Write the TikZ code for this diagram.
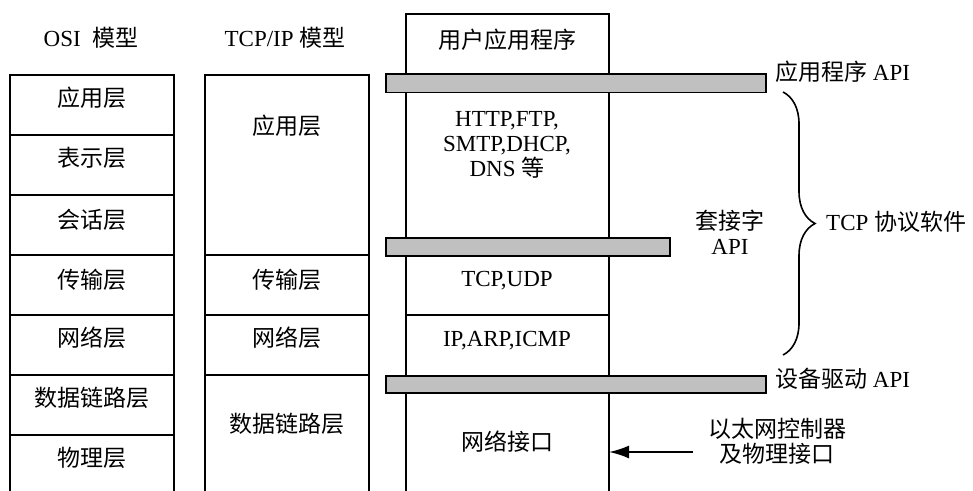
\documentclass[tikz,border=0pt]{standalone}
\usepackage{fontspec}
\setmainfont{Liberation Serif}
\newfontfamily\cjk{Noto Sans CJK SC}
\usetikzlibrary{arrows.meta,decorations.pathreplacing}
\definecolor{bargray}{RGB}{192,192,192}
\tikzset{
  frame/.style={draw, line width=1.9pt},
  apibar/.style={draw, fill=bargray, line width=1.9pt},
  lbl/.style={font=\fontsize{23}{25}\selectfont, inner sep=0pt, align=center},
  zh/.style={lbl, font=\fontsize{23}{25}\selectfont\cjk},
}
\begin{document}
\begin{tikzpicture}[x=1pt, y=-1pt]
\useasboundingbox (0,0) rectangle (973,490);

% OSI column (open at the bottom)
\draw[frame] (10,500) -- (10,75) -- (174,75) -- (174,500);
\foreach \y in {135,195,255,315,375,435}
  \draw[frame] (10,\y) -- (174,\y);

% TCP/IP column
\draw[frame] (205,500) -- (205,75) -- (369,75) -- (369,500);
\foreach \y in {255,315,375}
  \draw[frame] (205,\y) -- (369,\y);

% protocol stack column
\draw[frame] (406,500) -- (406,14) -- (609,14) -- (609,500);
\draw[frame] (406,315) -- (609,315);

% API bars
\draw[apibar] (386,74) rectangle (766,92.5);
\draw[apibar] (386,238) rectangle (670,256);
\draw[apibar] (386,376) rectangle (766,393);

% column headings
\node[lbl] (osihead) at (91,38) {OSI\ \ {\cjk 模型}};
\node[lbl] (tcphead) at (285,38) {TCP/IP {\cjk 模型}};

% OSI layers
\node[zh] (osiA) at (92,98)  {应用层};
\node[zh] (osiP) at (92,158) {表示层};
\node[zh] (osiS) at (92,220) {会话层};
\node[zh] (osiT) at (92,280) {传输层};
\node[zh] (osiN) at (92,338) {网络层};
\node[zh] (osiD) at (92,398) {数据链路层};
\node[zh] (osiH) at (92,458) {物理层};

% TCP/IP layers
\node[zh] (tipA) at (287,126) {应用层};
\node[zh] (tipT) at (287,280) {传输层};
\node[zh] (tipN) at (287,338) {网络层};
\node[zh] (tipD) at (287,424) {数据链路层};

% protocol stack contents
\node[zh]  (userapp) at (507,40)  {用户应用程序};
\node[lbl] (appproto) at (507,145) {HTTP,FTP,\\SMTP,DHCP,\\DNS {\cjk 等}};
\node[lbl] (transp) at (507,281) {TCP,UDP};
\node[lbl] (netp) at (507,341) {IP,ARP,ICMP};
\node[zh]  (nic) at (507,442) {网络接口};

% API labels
\node[lbl, anchor=west] (appapi) at (775,72) {{\cjk 应用程序} API};
\node[lbl] (sockapi) at (730,232) {{\cjk 套接字}\\API};
\node[lbl, anchor=west] (drvapi) at (775,379) {{\cjk 设备驱动} API};

% TCP protocol software brace
\coordinate (bracetop) at (783,92);
\coordinate (bracebot) at (783,355);
\draw[line width=1.6pt, decorate, decoration={brace, amplitude=32pt, aspect=0.5}]
  (bracetop) -- (bracebot);
\node[lbl, anchor=west] (tcpsw) at (826,222) {TCP {\cjk 协议软件}};

% Ethernet controller pointer
\node[lbl, font=\fontsize{23}{25}\selectfont\cjk] (eth) at (777,441) {以太网控制器\\及物理接口};
\coordinate (ethsrc) at (693,452);
\coordinate (nicedge) at (609,452);
\draw[line width=1.9pt, -{Latex[length=20pt, width=13pt]}] (ethsrc) -- (nicedge);
\end{tikzpicture}
\end{document}
